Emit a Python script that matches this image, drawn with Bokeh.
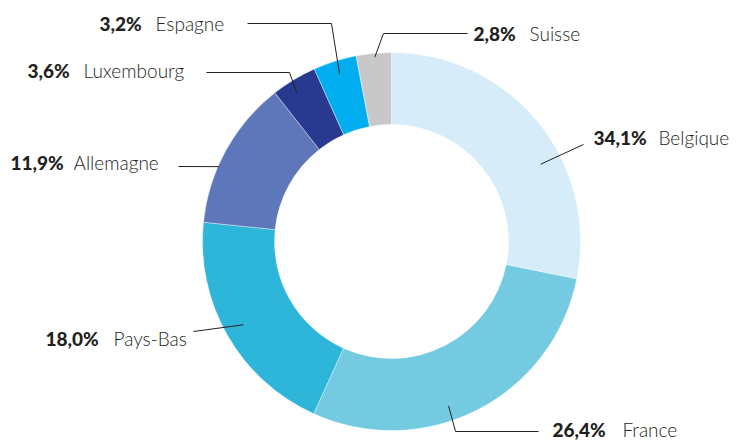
import math
from bokeh.plotting import figure
from bokeh.models import Range1d, ColumnDataSource
from bokeh.core.properties import value
from bokeh.embed import file_html
from bokeh.resources import INLINE

# ---- data ----
countries = ["Belgique", "France", "Pays-Bas", "Allemagne", "Luxembourg", "Espagne", "Suisse"]
# printed labels of the reference
pct_labels = ["34,1%", "26,4%", "18,0%", "11,9%", "3,6%", "3,2%", "2,8%"]
# slice sizes as drawn in the reference (share of the circle, %)
drawn_shares = [28.2, 28.6, 19.9, 12.8, 3.9, 3.7, 3.0]
colors = ["#D6EDF9", "#73CAE1", "#2DB5DA", "#5E77BA", "#283A8F", "#00AEEF", "#C8C8C8"]

# ---- layout (screen pixel coordinates) ----
cx, cy = 391, 241
r_in, r_out = 117, 189
anchor_nudge_deg = [11.9, 8.0, 0.6, -5.4, -1.4, 0.2, 0.2]
anchor_r = [168, 174, 170, 188, 176, 175, 185]
label_y = [137, 429, 338, 162, 70, 23, 33]
pct_x = [593, 552, 45, 10, 27, 99, 473]
name_x = [658, 622, 113, 73, 83, 155, 529]
elbow = [(583, 144), (455, 431), (193, 331), (178, 166), (289, 72), (331, 23), (383, 33)]
line_end = [(583, 144), (538, 431), (193, 331), (178, 166), (206, 72), (247, 23), (467, 33)]

W, H = 740, 441
p = figure(width=W, height=H, output_backend="svg", toolbar_location=None,
           x_range=Range1d(0, W), y_range=Range1d(-H, 0),
           min_border=0, outline_line_color=None, background_fill_color="white")
p.xaxis.visible = False
p.yaxis.visible = False
p.grid.visible = False

total = sum(drawn_shares)
starts, ends, mids = [], [], []
c = 0.0
for v in drawn_shares:
    f0, f1 = c / total, (c + v) / total
    starts.append(math.pi / 2 - 2 * math.pi * f0)
    ends.append(math.pi / 2 - 2 * math.pi * f1)
    mids.append((f0 + f1) / 2 * 360.0)
    c += v

src = ColumnDataSource(dict(start=starts, end=ends, color=colors, name=countries))
p.annular_wedge(x=cx, y=-cy, inner_radius=r_in, outer_radius=r_out,
                start_angle="start", end_angle="end", direction="clock",
                fill_color="color", line_color="white", line_width=0.4, source=src)

# leader lines
xs, ys = [], []
for i in range(len(drawn_shares)):
    a = math.radians(mids[i] + anchor_nudge_deg[i])
    ax = cx + anchor_r[i] * math.sin(a)
    ay = cy - anchor_r[i] * math.cos(a)
    xs.append([ax, elbow[i][0], line_end[i][0]])
    ys.append([-ay, -elbow[i][1], -line_end[i][1]])
p.multi_line(xs=xs, ys=ys, line_color="#231F20", line_width=1)

p.text(x=pct_x, y=[-v for v in label_y], text=pct_labels,
       text_font=value("'Lato Black', Lato"), text_font_style="bold", text_font_size="19px",
       text_color="#231F20", text_align="left", text_baseline="middle")
p.text(x=name_x, y=[-v for v in label_y], text=countries,
       text_font=value("'Lato Light', Lato"), text_font_size="19px",
       text_color="#231F20", text_align="left", text_baseline="middle")

open("out.html", "w").write(file_html(p, INLINE))
